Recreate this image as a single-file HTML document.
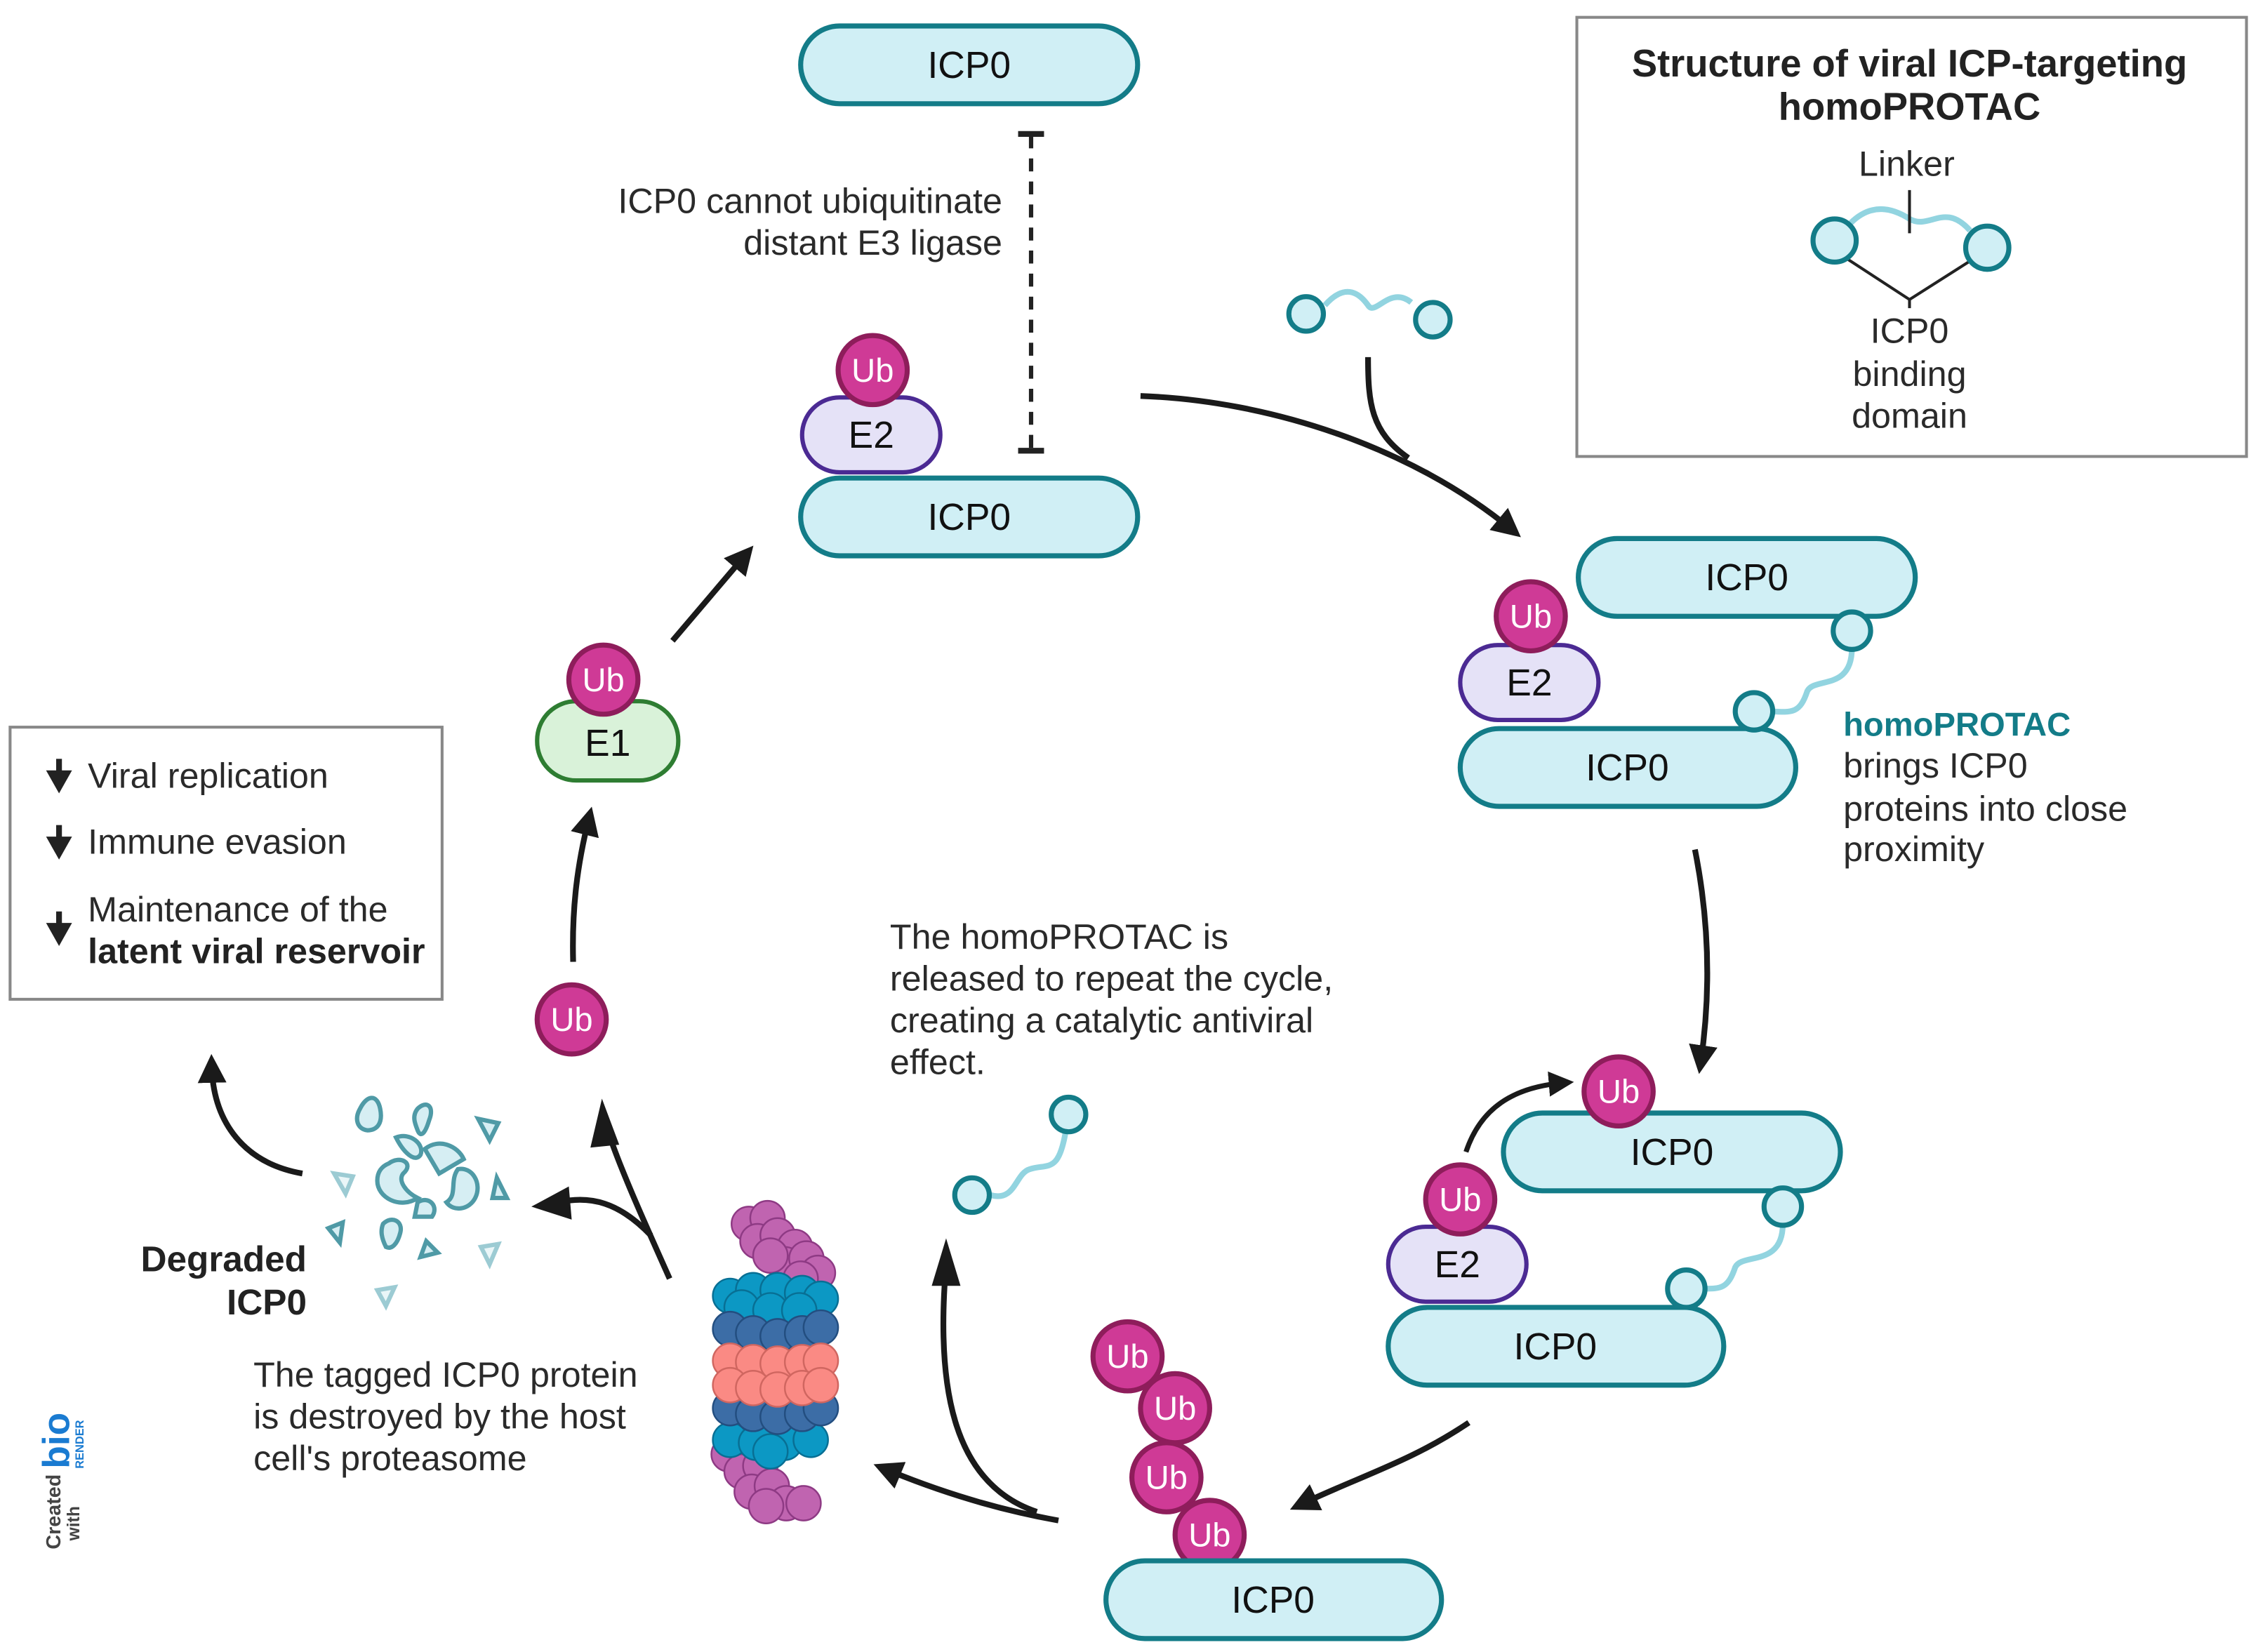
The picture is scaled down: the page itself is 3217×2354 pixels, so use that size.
<!DOCTYPE html>
<html><head><meta charset="utf-8"><style>
html,body{margin:0;padding:0;background:#fff;}
svg{display:block;}
text{font-family:"Liberation Sans",sans-serif;}
</style></head><body>
<svg width="3217" height="2354" viewBox="0 0 1568 1147.3" xmlns="http://www.w3.org/2000/svg">
<defs>
<marker id="ah" viewBox="0 0 10 10" refX="6" refY="5" markerWidth="5" markerHeight="5" orient="auto"><path d="M0,0 L10,5 L0,10 z" fill="#1a1a1a"/></marker>
<g id="ub"><circle r="24" fill="#cf3a96" stroke="#8e1d5b" stroke-width="3.5"/><text y="8" text-anchor="middle" font-size="23" fill="#fff">Ub</text></g>
<g id="e2"><rect x="-48" y="-26" width="96" height="52" rx="26" fill="#e5e2f7" stroke="#4b2a93" stroke-width="3"/><text y="9" text-anchor="middle" font-size="26" fill="#111">E2</text></g>
</defs>
<style>
.pill{fill:#d0eff5;stroke:#137c88;stroke-width:3.5;}
.pt{font-size:26px;fill:#111;text-anchor:middle;}
.bd{fill:#d0eff5;stroke:#137c88;stroke-width:3.5;}
.lk{fill:none;stroke:#92d4e0;stroke-width:4;}
.ar{fill:none;stroke:#1a1a1a;stroke-width:4;marker-end:url(#ah);}
.ln{fill:none;stroke:#1a1a1a;stroke-width:4;}
.tx{font-size:24.5px;fill:#2a2a2a;}
.fr{fill:#d6eef3;stroke:#4f9aa6;stroke-width:3;}
.fl{fill:#eaf6f8;stroke:#9ccbd3;stroke-width:3;}
</style>

<rect class="pill" x="556" y="18" width="234" height="54" rx="27"/><text class="pt" x="673" y="54">ICP0</text>
<line x1="716" y1="94" x2="716" y2="313" stroke="#222" stroke-width="3" stroke-dasharray="9,7"/>
<line x1="707" y1="93" x2="725" y2="93" stroke="#222" stroke-width="4"/>
<line x1="707" y1="313" x2="725" y2="313" stroke="#222" stroke-width="4"/>
<text class="tx" x="696" y="148" text-anchor="end">ICP0 cannot ubiquitinate</text>
<text class="tx" x="696" y="177" text-anchor="end">distant E3 ligase</text>
<use href="#e2" x="605" y="302"/><use href="#ub" x="606" y="257"/>
<rect class="pill" x="556" y="332" width="234" height="54" rx="27"/><text class="pt" x="673" y="368">ICP0</text>

<path class="ar" d="M792,275 C880,278 980,310 1050,368"/>
<path class="ln" d="M950,248 C950,280 952,300 978,318"/>
<path class="lk" d="M920,212 C935,195 945,205 950,212 C955,220 965,198 980,210"/>
<circle class="bd" cx="907" cy="218" r="12"/><circle class="bd" cx="995" cy="222" r="12"/>

<rect x="1095" y="12" width="465" height="305" fill="none" stroke="#888" stroke-width="2"/>
<text x="1326" y="53" text-anchor="middle" font-size="26.5" font-weight="bold" fill="#222">Structure of viral ICP-targeting</text>
<text x="1326" y="83" text-anchor="middle" font-size="26.5" font-weight="bold" fill="#222">homoPROTAC</text>
<text class="tx" x="1324" y="122" text-anchor="middle">Linker</text>
<path class="lk" d="M1285,155 C1300,140 1315,145 1326,152 C1340,160 1350,140 1368,160"/>
<line x1="1326" y1="132" x2="1326" y2="162" stroke="#222" stroke-width="2"/>
<polyline points="1280,178 1326,208 1370,180" fill="none" stroke="#222" stroke-width="2"/>
<line x1="1326" y1="208" x2="1326" y2="214" stroke="#222" stroke-width="2"/>
<circle class="bd" cx="1274" cy="167" r="15"/><circle class="bd" cx="1380" cy="172" r="15"/>
<text class="tx" x="1326" y="238" text-anchor="middle">ICP0</text>
<text class="tx" x="1326" y="268" text-anchor="middle">binding</text>
<text class="tx" x="1326" y="297" text-anchor="middle">domain</text>

<rect class="pill" x="1096" y="374" width="234" height="54" rx="27"/><text class="pt" x="1213" y="410">ICP0</text>
<path class="lk" d="M1286,450 C1286,480 1260,470 1255,480 C1250,495 1245,495 1230,494"/>
<use href="#e2" x="1062" y="474"/><use href="#ub" x="1063" y="428"/>
<rect class="pill" x="1014" y="506" width="233" height="54" rx="27"/><text class="pt" x="1130" y="542">ICP0</text>
<circle class="bd" cx="1286" cy="438" r="13"/><circle class="bd" cx="1218" cy="494" r="13"/>
<text x="1280" y="511" font-size="23" font-weight="bold" fill="#137c88">homoPROTAC</text>
<text class="tx" x="1280" y="540">brings ICP0</text>
<text class="tx" x="1280" y="570">proteins into close</text>
<text class="tx" x="1280" y="598">proximity</text>

<path class="ar" d="M1177,590 C1187,640 1188,690 1181,738"/>

<rect class="pill" x="1044" y="773" width="234" height="54" rx="27"/><text class="pt" x="1161" y="809">ICP0</text>
<use href="#ub" x="1124" y="758"/>
<path class="lk" d="M1238,850 C1238,880 1210,870 1205,880 C1200,895 1195,895 1183,895"/>
<use href="#e2" x="1012" y="878"/><use href="#ub" x="1014" y="833"/>
<rect class="pill" x="964" y="908" width="233" height="54" rx="27"/><text class="pt" x="1080" y="944">ICP0</text>
<circle class="bd" cx="1238" cy="838" r="13"/><circle class="bd" cx="1171" cy="895" r="13"/>
<path class="ar" d="M1018,800 C1028,770 1050,755 1086,752" style="stroke-width:3.5"/>

<path class="ar" d="M1020,988 C980,1015 945,1025 903,1045"/>

<use href="#ub" x="783" y="942"/><use href="#ub" x="816" y="978"/><use href="#ub" x="810" y="1026"/><use href="#ub" x="840" y="1066"/>
<rect class="pill" x="768" y="1084" width="233" height="54" rx="27"/><text class="pt" x="884" y="1120">ICP0</text>

<path class="ar" d="M735,1056 C690,1048 650,1035 614,1020"/>
<path class="ln" d="M720,1050 C660,1030 650,960 657,878"/>
<path d="M657,860 L667,893 L647,893 z" fill="#1a1a1a"/>

<path class="lk" d="M688,830 C705,835 705,815 715,812 C728,808 735,815 740,786"/>
<circle class="bd" cx="675" cy="830" r="12"/><circle class="bd" cx="742" cy="774" r="12"/>
<text class="tx" x="618" y="659">The homoPROTAC is</text>
<text class="tx" x="618" y="688">released to repeat the cycle,</text>
<text class="tx" x="618" y="717">creating a catalytic antiviral</text>
<text class="tx" x="618" y="746">effect.</text>

<g stroke-width="1.2">
<g fill="#c064b0" stroke="#8e3a84">
<circle cx="520" cy="850" r="12"/><circle cx="533" cy="846" r="12"/><circle cx="526" cy="862" r="12"/><circle cx="540" cy="858" r="12"/><circle cx="552" cy="866" r="12"/><circle cx="545" cy="878" r="12"/><circle cx="560" cy="874" r="12"/><circle cx="568" cy="884" r="12"/><circle cx="556" cy="888" r="12"/><circle cx="535" cy="872" r="12"/>
<circle cx="506" cy="1010" r="12"/><circle cx="515" cy="1022" r="12"/><circle cx="528" cy="1018" r="12"/><circle cx="522" cy="1036" r="12"/><circle cx="536" cy="1032" r="12"/><circle cx="546" cy="1044" r="12"/><circle cx="558" cy="1044" r="12"/><circle cx="532" cy="1046" r="12"/>
</g>
<g fill="#0c98c4" stroke="#086f94">
<circle cx="507" cy="900" r="12"/><circle cx="523" cy="896" r="12"/><circle cx="540" cy="896" r="12"/><circle cx="557" cy="898" r="12"/><circle cx="570" cy="902" r="12"/><circle cx="515" cy="908" r="12"/><circle cx="535" cy="910" r="12"/><circle cx="555" cy="910" r="12"/>
<circle cx="507" cy="1000" r="12"/><circle cx="525" cy="1002" r="12"/><circle cx="545" cy="1002" r="12"/><circle cx="563" cy="1000" r="12"/><circle cx="535" cy="1008" r="12"/>
</g>
<g fill="#3c6da6" stroke="#234e80">
<circle cx="507" cy="923" r="12"/><circle cx="523" cy="926" r="12"/><circle cx="540" cy="928" r="12"/><circle cx="557" cy="926" r="12"/><circle cx="570" cy="922" r="12"/>
<circle cx="507" cy="978" r="12"/><circle cx="523" cy="982" r="12"/><circle cx="540" cy="984" r="12"/><circle cx="557" cy="982" r="12"/><circle cx="570" cy="978" r="12"/>
</g>
<g fill="#fa8a84" stroke="#d06660">
<circle cx="507" cy="945" r="12"/><circle cx="523" cy="946" r="12"/><circle cx="540" cy="947" r="12"/><circle cx="557" cy="946" r="12"/><circle cx="570" cy="945" r="12"/>
<circle cx="507" cy="962" r="12"/><circle cx="523" cy="964" r="12"/><circle cx="540" cy="965" r="12"/><circle cx="557" cy="964" r="12"/><circle cx="570" cy="962" r="12"/>
</g>
</g>

<path class="ln" d="M465,888 C448,850 430,810 422,785"/>
<path d="M418,763 L430,795 L410,797 z" fill="#1a1a1a"/>
<path class="ln" d="M452,858 C430,835 410,830 388,835"/>
<path d="M369,838 L395,824 L397,847 z" fill="#1a1a1a"/>

<use href="#ub" x="397" y="708"/>
<path class="ar" d="M398,668 C397,630 401,600 409,568"/>

<rect x="373" y="487" width="98" height="55" rx="27" fill="#d9f2d9" stroke="#2e7d32" stroke-width="3"/>
<text class="pt" x="422" y="525">E1</text>
<use href="#ub" x="419" y="472"/>
<path class="ar" d="M467,445 L518,385"/>

<g>
<path class="fr" d="M250,770 C255,760 262,760 264,770 C266,780 262,785 255,785 C248,784 246,777 250,770z"/>
<path class="fr" d="M290,770 C296,764 302,768 298,778 C295,788 292,790 290,785 C288,780 286,775 290,770z"/>
<path class="fr" d="M332,777 L346,780 L340,792 z"/>
<path class="fr" d="M275,790 C285,786 295,795 292,802 C288,808 280,800 275,790z"/>
<path class="fr" d="M295,798 C305,790 318,796 322,805 L305,815 z"/>
<path class="fr" d="M270,808 C278,802 288,808 280,815 C276,820 282,828 290,832 C278,840 262,832 262,820 C262,814 265,810 270,808z"/>
<path class="fr" d="M318,812 C328,810 335,822 330,832 C326,840 315,842 310,835 C318,830 312,820 318,812z"/>
<path class="fl" d="M232,815 L245,817 L240,829 z"/>
<path class="fr" d="M345,818 L352,832 L342,832 z"/>
<path class="fr" d="M290,835 C298,830 305,838 300,845 L288,845 z"/>
<path class="fr" d="M266,850 C272,844 280,848 278,856 C276,864 272,868 268,866 C265,860 264,855 266,850z"/>
<path class="fr" d="M228,853 L238,849 L236,863 z"/>
<path class="fr" d="M296,862 L304,870 L292,873 z"/>
<path class="fl" d="M334,866 L346,864 L340,878 z"/>
<path class="fl" d="M262,896 L274,894 L268,907 z"/>
</g>
<text x="213" y="883" text-anchor="end" font-size="25" font-weight="bold" fill="#222">Degraded</text>
<text x="213" y="913" text-anchor="end" font-size="25" font-weight="bold" fill="#222">ICP0</text>
<text class="tx" x="176" y="963">The tagged ICP0 protein</text>
<text class="tx" x="176" y="992">is destroyed by the host</text>
<text class="tx" x="176" y="1021">cell's proteasome</text>
<path class="ar" d="M210,815 C170,808 148,780 147,740"/>

<rect x="7" y="505" width="300" height="189" fill="none" stroke="#888" stroke-width="2"/>
<g fill="#222">
<rect x="39" y="527" width="4" height="10"/><path d="M32,535 L50,535 L41,551 z"/>
<rect x="39" y="573" width="4" height="10"/><path d="M32,581 L50,581 L41,597 z"/>
<rect x="39" y="633" width="4" height="10"/><path d="M32,641 L50,641 L41,657 z"/>
</g>
<text class="tx" x="61" y="547">Viral replication</text>
<text class="tx" x="61" y="593">Immune evasion</text>
<text class="tx" x="61" y="640">Maintenance of the</text>
<text x="61" y="669" font-size="24.5" font-weight="bold" fill="#222">latent viral reservoir</text>

<g transform="translate(42,1076) rotate(-90)">
<text x="0" y="0" font-size="14" font-weight="bold" fill="#444">Created</text>
<text x="6" y="13" font-size="12" font-weight="bold" fill="#444">with</text>
<text x="56" y="6" font-size="26" font-weight="bold" fill="#1a7bd1">bio</text>
<text x="56" y="16" font-size="8" font-weight="bold" fill="#1a7bd1">RENDER</text>
</g>
</svg>
</body></html>
